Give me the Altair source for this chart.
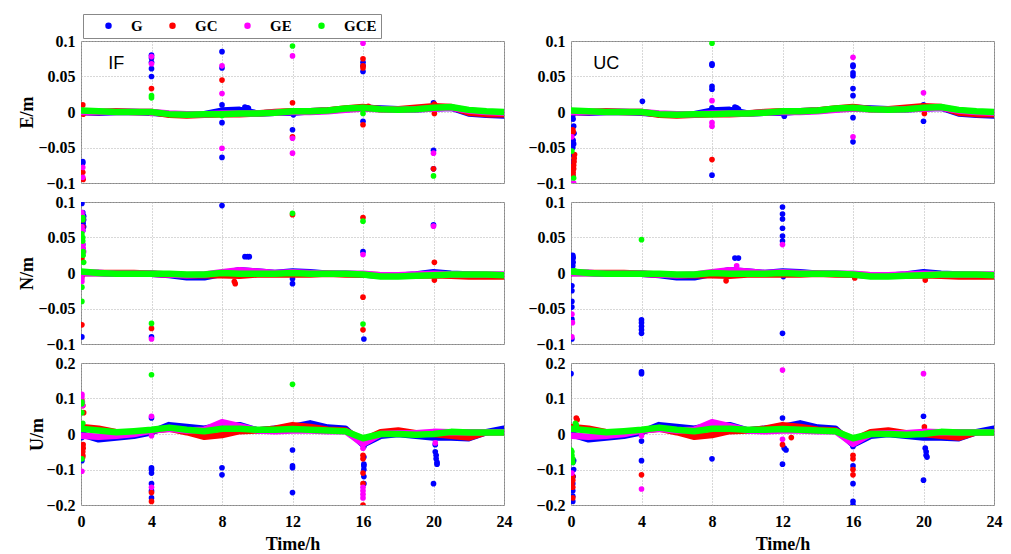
import altair as alt
import pandas as pd

SERIES = ["G", "GC", "GE", "GCE"]
COLORS = ["#0000ff", "#ff0000", "#ff00ff", "#00ff00"]
HOURS = list(range(25))
XTICKS = [0, 4, 8, 12, 16, 20, 24]

# hourly baseline (dense solution band) per component and series
E_G = [0.000, -0.001, 0.000, 0.000, -0.001, -0.003, -0.004, -0.003, 0.002, 0.003, -0.002, -0.001, -0.001, 0.001, 0.002, 0.004, 0.006, 0.005, 0.004, 0.004, 0.005, 0.006, -0.002, -0.004, -0.005]
E_GC = [0.000, 0.000, 0.001, 0.000, 0.000, -0.004, -0.005, -0.004, -0.003, -0.003, -0.002, 0.000, 0.001, 0.001, 0.002, 0.005, 0.007, 0.004, 0.004, 0.006, 0.008, 0.007, -0.001, -0.003, -0.003]
E_GE = [0.000, 0.000, 0.000, 0.000, 0.000, -0.002, -0.003, -0.003, -0.002, -0.002, -0.002, -0.001, 0.000, 0.000, 0.001, 0.003, 0.005, 0.004, 0.003, 0.004, 0.005, 0.006, 0.002, 0.000, -0.001]
E_GCE = [0.002, 0.001, 0.000, 0.000, 0.000, -0.003, -0.004, -0.003, -0.003, -0.002, -0.002, -0.001, 0.001, 0.001, 0.002, 0.005, 0.006, 0.004, 0.003, 0.004, 0.006, 0.007, 0.003, 0.001, 0.000]

N_G = [0.000, 0.000, -0.001, -0.001, -0.001, -0.003, -0.006, -0.006, -0.001, 0.004, 0.002, 0.000, 0.002, 0.001, -0.001, -0.001, -0.002, -0.004, -0.004, -0.002, 0.001, -0.001, -0.002, -0.003, -0.003]
N_GC = [0.000, 0.000, 0.000, 0.000, -0.001, -0.002, -0.003, -0.003, -0.003, -0.004, -0.002, -0.002, -0.002, -0.002, -0.001, -0.002, -0.002, -0.003, -0.004, -0.004, -0.003, -0.004, -0.005, -0.005, -0.005]
N_GE = [0.000, 0.000, -0.001, -0.001, -0.001, -0.002, -0.003, -0.002, 0.001, 0.004, 0.002, 0.000, 0.001, 0.000, -0.001, -0.001, -0.001, -0.003, -0.003, -0.002, -0.001, -0.002, -0.002, -0.002, -0.002]
N_GCE = [0.002, 0.000, -0.001, -0.001, -0.001, -0.001, -0.002, -0.002, 0.000, -0.001, -0.001, -0.001, 0.000, -0.001, -0.001, -0.001, -0.002, -0.005, -0.005, -0.004, -0.003, -0.002, -0.002, -0.002, -0.003]

U_G = [0.000, -0.015, -0.010, -0.005, 0.005, 0.025, 0.020, 0.015, 0.025, 0.025, 0.010, 0.015, 0.020, 0.030, 0.018, 0.015, -0.030, -0.005, 0.000, -0.005, -0.010, -0.010, -0.012, 0.005, 0.015]
U_GC = [0.020, 0.015, 0.005, 0.005, 0.010, 0.015, 0.005, -0.008, -0.003, 0.008, 0.010, 0.015, 0.025, 0.020, 0.012, 0.010, -0.018, 0.005, 0.010, 0.002, 0.000, -0.005, -0.010, 0.005, 0.005]
U_GE = [-0.005, -0.008, -0.005, 0.000, 0.010, 0.015, 0.010, 0.012, 0.033, 0.022, 0.010, 0.008, 0.010, 0.010, 0.008, 0.008, -0.028, 0.000, 0.002, 0.002, 0.006, 0.005, 0.005, 0.005, 0.005]
U_GCE = [0.015, 0.010, 0.005, 0.008, 0.012, 0.018, 0.012, 0.008, 0.015, 0.015, 0.012, 0.012, 0.014, 0.012, 0.010, 0.008, -0.012, 0.000, 0.000, -0.002, 0.000, 0.006, 0.004, 0.004, 0.004]

# isolated epochs (series, hour, value)
E_IF_OUT = [("G", 0.1, -0.070), ("G", 0.1, -0.072), ("GC", 0.1, -0.085), ("GC", 0.12, -0.095), ("GC", 0.1, 0.010), ("GC", 0.12, -0.003), ("GE", 0.1, -0.078), ("GE", 0.1, -0.092),
            ("G", 4.0, 0.080), ("G", 4.0, 0.076), ("G", 4.0, 0.070), ("G", 4.0, 0.061), ("G", 4.0, 0.050), ("GE", 4.0, 0.078), ("GE", 4.0, 0.068), ("GC", 4.0, 0.033), ("GCE", 4.0, 0.023), ("GCE", 4.0, 0.020), ("GE", 4.0, -0.002),
            ("G", 8.0, 0.085), ("G", 8.0, 0.062), ("G", 8.0, 0.010), ("G", 8.0, -0.015), ("G", 8.0, -0.064), ("GE", 8.0, 0.065), ("GE", 8.0, 0.026), ("GE", 8.0, -0.051), ("GC", 8.0, 0.045), ("GCE", 8.0, -0.005),
            ("G", 9.3, 0.007), ("G", 9.45, 0.006), ("G", 9.5, 0.005),
            ("GCE", 12.0, 0.093), ("GE", 12.0, 0.079), ("GE", 12.0, -0.037), ("GE", 12.0, -0.058), ("GC", 12.0, 0.013), ("GC", 12.0, -0.035), ("G", 12.0, -0.025), ("G", 12.05, -0.004),
            ("GE", 16.0, 0.097), ("GC", 16.0, 0.075), ("GC", 16.0, 0.065), ("GC", 16.0, 0.062), ("GC", 16.0, -0.018), ("G", 16.0, 0.070), ("G", 16.0, 0.065), ("G", 16.0, 0.057), ("G", 16.0, -0.013), ("GCE", 16.0, -0.002), ("GC", 16.3, 0.008),
            ("G", 20.0, 0.013), ("GC", 20.05, 0.011), ("G", 20.0, -0.054), ("GE", 20.0, -0.058), ("G", 20.0, -0.080), ("GC", 20.0, -0.080), ("GC", 20.05, -0.002), ("GCE", 20.0, -0.090)]

E_UC_OUT = [("G", 0.10, -0.005), ("G", 0.12, -0.010), ("G", 0.15, -0.020), ("G", 0.17, -0.030), ("G", 0.12, -0.040), ("G", 0.15, -0.045), ("G", 0.1, -0.050), ("G", 0.12, -0.060), ("G", 0.1, -0.070), ("G", 0.12, -0.080), ("G", 0.1, -0.088),
            ("GC", 0.1, -0.025), ("GC", 0.12, -0.028), ("GC", 0.2, -0.060), ("GC", 0.18, -0.065), ("GC", 0.17, -0.070), ("GC", 0.15, -0.075), ("GC", 0.15, -0.080), ("GC", 0.12, -0.085), ("GC", 0.12, -0.090),
            ("GE", 0.05, -0.035), ("GE", 0.15, -0.100), ("GCE", 0.05, -0.055), ("GCE", 0.15, -0.093),
            ("G", 4.05, 0.015),
            ("GCE", 8.0, 0.097), ("G", 8.0, 0.068), ("G", 8.0, 0.066), ("G", 8.0, 0.036), ("G", 8.0, 0.032), ("G", 8.0, 0.006), ("G", 8.0, -0.089), ("GE", 8.0, 0.016), ("GE", 8.0, -0.015), ("GE", 8.0, -0.020), ("GC", 8.0, -0.067),
            ("G", 9.3, 0.007), ("G", 9.4, 0.006), ("G", 9.5, 0.004),
            ("G", 12.1, -0.006),
            ("GE", 16.0, 0.077), ("GE", 16.0, -0.035), ("G", 16.0, 0.066), ("G", 16.0, 0.064), ("G", 16.0, 0.055), ("G", 16.0, 0.051), ("G", 16.0, 0.033), ("G", 16.0, 0.023), ("G", 16.0, -0.008), ("G", 16.0, -0.042), ("GC", 16.3, 0.006),
            ("GE", 20.0, 0.027), ("G", 20.0, 0.010), ("G", 20.0, -0.013), ("GC", 20.05, -0.002)]

N_IF_OUT = [("G", 0.05, 0.098), ("G", 0.1, 0.085), ("G", 0.15, 0.080), ("G", 0.15, 0.075), ("G", 0.12, 0.070), ("G", 0.15, 0.065), ("G", 0.1, 0.060), ("G", 0.1, 0.040), ("G", 0.05, -0.090),
            ("GE", 0.05, 0.085), ("GE", 0.08, 0.080), ("GE", 0.05, 0.065), ("GE", 0.1, 0.060), ("GE", 0.1, 0.040), ("GE", 0.12, 0.035), ("GE", 0.15, 0.030), ("GE", 0.05, -0.008), ("GE", 0.05, -0.012),
            ("GC", 0.1, 0.075), ("GC", 0.1, 0.065), ("GC", 0.05, 0.020), ("GC", 0.05, -0.005), ("GC", 0.05, -0.073),
            ("GCE", 0.1, 0.078), ("GCE", 0.1, 0.075), ("GCE", 0.05, 0.055), ("GCE", 0.1, 0.050), ("GCE", 0.1, 0.045), ("GCE", 0.12, 0.030), ("GCE", 0.12, 0.025), ("GCE", 0.15, 0.015), ("GCE", 0.05, -0.020), ("GCE", 0.05, -0.040),
            ("GCE", 4.0, -0.071), ("GC", 4.0, -0.078), ("G", 4.0, -0.090), ("GE", 4.0, -0.093),
            ("G", 8.0, 0.095), ("GC", 8.7, -0.012), ("GC", 8.75, -0.015),
            ("G", 9.3, 0.023), ("G", 9.45, 0.023), ("G", 9.55, 0.023),
            ("GCE", 12.0, 0.084), ("GC", 12.0, 0.082), ("G", 12.0, -0.008), ("G", 12.0, -0.015),
            ("GC", 16.0, 0.078), ("GCE", 16.0, 0.073), ("G", 16.0, 0.030), ("GE", 16.0, 0.026), ("GC", 16.0, -0.034), ("GC", 16.0, -0.080), ("GCE", 16.0, -0.072), ("G", 16.05, -0.093),
            ("G", 20.0, 0.068), ("GE", 20.0, 0.066), ("GC", 20.05, 0.015), ("GC", 20.05, -0.010)]

N_UC_OUT = [("G", 0.1, 0.025), ("G", 0.12, 0.022), ("G", 0.1, 0.020), ("G", 0.12, 0.015), ("G", 0.1, 0.010), ("G", 0.05, -0.018), ("G", 0.05, -0.025), ("G", 0.05, -0.040), ("G", 0.05, -0.048), ("G", 0.05, -0.065), ("G", 0.05, -0.093),
            ("GE", 0.05, -0.058), ("GE", 0.08, -0.070), ("GE", 0.05, -0.090), ("GCE", 0.2, 0.003),
            ("GCE", 4.0, 0.047), ("G", 4.0, -0.066), ("G", 4.0, -0.070), ("G", 4.0, -0.075), ("G", 4.0, -0.080), ("G", 4.0, -0.085),
            ("GC", 8.8, -0.011), ("G", 9.3, 0.021), ("G", 9.5, 0.021), ("GE", 9.4, 0.010),
            ("G", 12.0, 0.093), ("G", 12.0, 0.083), ("G", 12.0, 0.076), ("G", 12.0, 0.063), ("G", 12.0, 0.052), ("G", 12.0, 0.045), ("GE", 12.0, 0.040), ("G", 12.0, -0.085), ("G", 12.05, -0.005),
            ("GC", 16.1, -0.007), ("GC", 20.1, -0.010)]

U_IF_OUT = [("GE", 0.05, 0.112), ("GE", 0.05, 0.105), ("GE", 0.08, 0.090), ("GE", 0.1, 0.080), ("GE", 0.05, -0.105),
            ("GC", 0.05, 0.095), ("GC", 0.1, 0.080), ("GC", 0.15, 0.060), ("GC", 0.12, -0.030), ("GC", 0.12, -0.040), ("GC", 0.1, -0.050), ("GC", 0.1, -0.060), ("GC", 0.1, -0.065),
            ("GCE", 0.05, 0.090), ("GCE", 0.05, 0.085), ("GCE", 0.05, 0.060), ("GCE", 0.1, 0.030), ("GCE", 0.05, -0.070),
            ("G", 0.05, -0.075), ("G", 0.05, -0.010),
            ("GCE", 4.0, 0.167), ("GE", 4.0, 0.050), ("GE", 4.0, -0.005), ("GE", 4.0, -0.150),
            ("G", 4.0, 0.045), ("G", 4.0, -0.095), ("G", 4.0, -0.100), ("G", 4.0, -0.110), ("G", 4.0, -0.140), ("G", 4.0, -0.160), ("G", 4.0, -0.180), ("GC", 4.0, -0.165), ("GC", 4.0, -0.190),
            ("G", 8.0, -0.095), ("G", 8.0, -0.115),
            ("GCE", 12.0, 0.140), ("G", 12.0, -0.045), ("G", 12.0, -0.090), ("G", 12.0, -0.095), ("G", 12.0, -0.165),
            ("GE", 16.0, -0.040), ("GE", 16.0, -0.150), ("GE", 16.0, -0.160), ("GE", 16.0, -0.170), ("GE", 16.0, -0.180),
            ("GC", 16.0, -0.060), ("GC", 16.0, -0.070), ("GC", 16.0, -0.110), ("GC", 16.0, -0.140), ("GC", 16.0, -0.200),
            ("G", 16.05, -0.035), ("G", 16.05, -0.065), ("G", 16.05, -0.085), ("G", 16.05, -0.090), ("G", 16.05, -0.100), ("G", 16.05, -0.120), ("G", 16.05, -0.140),
            ("G", 20.0, -0.140), ("G", 20.1, -0.030), ("G", 20.1, -0.050), ("G", 20.15, -0.060), ("G", 20.15, -0.070), ("G", 20.2, -0.080), ("G", 20.2, -0.085), ("GE", 20.1, -0.025)]

U_UC_OUT = [("G", 0.0, 0.170), ("G", 0.1, -0.080), ("G", 0.15, -0.075), ("G", 0.15, -0.100), ("G", 0.12, -0.120), ("G", 0.1, -0.140), ("G", 0.1, -0.160), ("G", 0.1, -0.175), ("G", 0.1, -0.190),
            ("GC", 0.05, -0.140), ("GC", 0.1, -0.120), ("GC", 0.1, -0.130), ("GC", 0.1, -0.150), ("GC", 0.1, -0.180), ("GC", 0.3, 0.045), ("GC", 0.35, 0.040),
            ("GE", 0.05, -0.110),
            ("GCE", 0.0, -0.045), ("GCE", 0.05, -0.050), ("GCE", 0.05, -0.060), ("GCE", 0.1, -0.070), ("GCE", 0.1, -0.080), ("GCE", 0.25, 0.030), ("GCE", 0.3, 0.025),
            ("G", 4.0, 0.175), ("G", 4.0, 0.170), ("G", 4.0, -0.020), ("G", 4.0, -0.075), ("GE", 4.0, -0.005), ("GE", 4.0, -0.155), ("GC", 4.0, -0.115),
            ("GE", 8.0, 0.030), ("G", 8.0, -0.070),
            ("GE", 12.0, 0.180), ("GE", 12.0, -0.015), ("G", 12.0, 0.045), ("G", 12.1, -0.040), ("G", 12.2, -0.045), ("G", 12.0, -0.085), ("GC", 12.0, -0.030), ("GC", 12.5, -0.010),
            ("G", 16.0, -0.035), ("G", 16.0, -0.090), ("G", 16.0, -0.140), ("G", 16.0, -0.190), ("G", 16.0, -0.200), ("GC", 16.0, -0.060), ("GC", 16.0, -0.070), ("GC", 16.0, -0.100), ("GC", 16.0, -0.115),
            ("GE", 20.0, 0.170), ("G", 20.0, 0.050), ("G", 20.0, -0.130), ("GC", 20.05, 0.020), ("G", 20.1, -0.040), ("G", 20.15, -0.050), ("G", 20.15, -0.060), ("G", 20.2, -0.065)]

BASE = {
    "E": {"G": E_G, "GC": E_GC, "GE": E_GE, "GCE": E_GCE},
    "N": {"G": N_G, "GC": N_GC, "GE": N_GE, "GCE": N_GCE},
    "U": {"G": U_G, "GC": U_GC, "GE": U_GE, "GCE": U_GCE},
}
OUT = {("E", "IF"): E_IF_OUT, ("E", "UC"): E_UC_OUT,
       ("N", "IF"): N_IF_OUT, ("N", "UC"): N_UC_OUT,
       ("U", "IF"): U_IF_OUT, ("U", "UC"): U_UC_OUT}
YDOM = {"E": [-0.1, 0.1], "N": [-0.1, 0.1], "U": [-0.2, 0.2]}
YTICKS = {"E": [-0.1, -0.05, 0, 0.05, 0.1], "N": [-0.1, -0.05, 0, 0.05, 0.1], "U": [-0.2, -0.1, 0, 0.1, 0.2]}
TITLE_X = {"E": -49, "N": -49, "U": -39}

SERIF = "Liberation Serif"
W, H = 423, 142

legend = alt.Legend(
    orient="none", legendX=2, legendY=-27, direction="horizontal",
    title="\u00a0", titleOrient="left", titlePadding=14, titleFontSize=8,
    symbolType="circle", symbolSize=42, symbolStrokeWidth=0,
    labelFont=SERIF, labelFontWeight="bold", labelFontSize=15, labelColor="#000",
    labelOffset=15, columnPadding=22, padding=4,
    strokeColor="#888", fillColor="#ffffff",
    labelExpr="datum.label == 'GCE' ? 'GCE\u00a0\u00a0\u00a0\u00a0\u00a0\u00a0\u00a0' : datum.label",
)


def panel(comp, mode, left, bottom):
    yaxis_kw = dict(values=YTICKS[comp], format="~g", ticks=False, domain=False,
                    labelPadding=6, labelFlush=False, grid=True)
    if left:
        yaxis_kw.update(title=f"{comp}/m", titleX=TITLE_X[comp], titleY=H / 2, titleAngle=-90,
                        titleAlign="center", titleBaseline="alphabetic")
    else:
        yaxis_kw.update(title=None)
    if bottom:
        xaxis = alt.Axis(values=XTICKS, format="d", ticks=False, domain=False, labelPadding=8,
                         labelFlush=False, title="Time/h", titlePadding=6, grid=True)
    else:
        xaxis = alt.Axis(values=XTICKS, labels=False, ticks=False, domain=False, title=None, grid=True)
    x = alt.X("t:Q", scale=alt.Scale(domain=[0, 24], nice=False, zero=False), axis=xaxis)
    y = alt.Y("v:Q", scale=alt.Scale(domain=YDOM[comp], nice=False, zero=False), axis=alt.Axis(**yaxis_kw))
    layers = []
    for s, c in zip(SERIES, COLORS):
        bdf = pd.DataFrame({"t": HOURS, "v": BASE[comp][s]})
        layers.append(alt.Chart(bdf).mark_line(strokeWidth=6.5, clip=True, color=c, strokeCap="round", strokeJoin="round").encode(x=x, y=y))
        pts = [(tt, vv) for (ss, tt, vv) in OUT[(comp, mode)] if ss == s]
        pdf = pd.DataFrame({"t": [p[0] for p in pts], "v": [p[1] for p in pts], "series": [s] * len(pts)})
        layers.append(alt.Chart(pdf).mark_circle(size=32, opacity=1, clip=True).encode(
            x=x, y=y,
            color=alt.Color("series:N", scale=alt.Scale(domain=SERIES, range=COLORS), legend=legend)))
    if comp == "E":
        tdf = pd.DataFrame({"t": [2.0], "v": [0.068], "label": [mode]})
        layers.append(alt.Chart(tdf).mark_text(font="Liberation Sans", fontSize=18, align="center", baseline="middle", color="#000").encode(
            x=x, y=y, text="label:N"))
    return alt.layer(*layers).properties(width=W, height=H)


panels = []
for comp in ["E", "N", "U"]:
    panels.append(panel(comp, "IF", True, comp == "U"))
    panels.append(panel(comp, "UC", False, comp == "U"))

chart = alt.concat(*panels, columns=2, spacing={"row": 19, "column": 67}, bounds="flush").properties(
    padding={"left": 17, "top": 13, "right": 5, "bottom": 2},
    background="#ffffff",
).configure_view(stroke="#888888", strokeWidth=1).configure_axis(
    labelFont=SERIF, labelFontWeight="bold", labelFontSize=16, labelColor="#000",
    titleFont=SERIF, titleFontWeight="bold", titleFontSize=18, titleColor="#000",
    gridColor="#b0b0b0", gridDash=[1, 2], gridWidth=1,
)

chart.save("out.html", embed_options={"renderer": "svg", "actions": False})
